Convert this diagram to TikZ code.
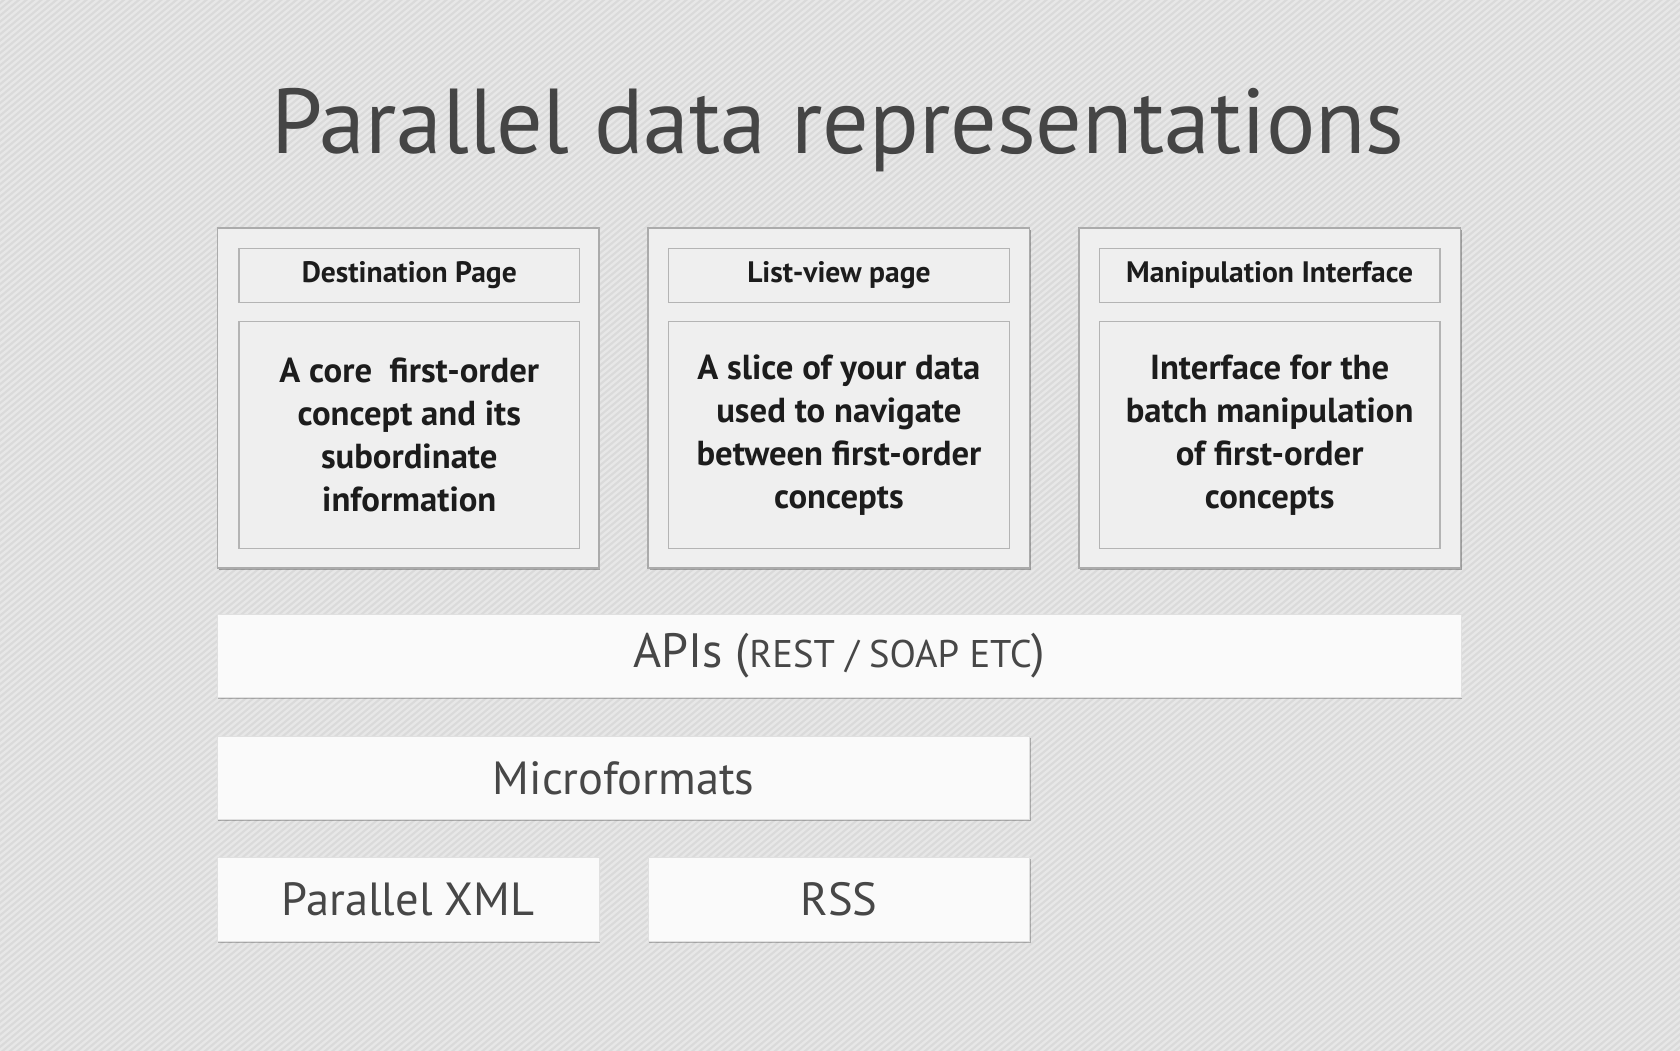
\documentclass[tikz,border=0pt]{standalone}
\usepackage{fontspec}
\setmainfont{PT Sans}
\usetikzlibrary{shadows}
\definecolor{bgcol}{HTML}{DADADA}
\definecolor{stripecol}{HTML}{E7E7E7}
\definecolor{boxline}{HTML}{ABABAB}
\definecolor{innerline}{HTML}{B4B4B4}
\definecolor{boxfill}{HTML}{EFEFEF}
\definecolor{whitefill}{HTML}{FAFAFA}
\definecolor{titlecol}{HTML}{454545}
\definecolor{darktext}{HTML}{1C1C1C}
\definecolor{graytext}{HTML}{474747}
\begin{document}
\begin{tikzpicture}[x=0.5pt,y=-0.5pt,
  outerbox/.style={draw=boxline, fill=boxfill, line width=0.7pt, inner sep=0pt,
    minimum width=178pt, minimum height=158.5pt,
    drop shadow={shadow xshift=0.7pt, shadow yshift=-0.9pt, opacity=0.3, fill=black}},
  headbox/.style={draw=innerline, fill=boxfill, line width=0.6pt, inner sep=0pt,
    minimum width=159pt, minimum height=25pt, text=darktext,
    font=\fontsize{13.8}{15}\selectfont\bfseries},
  bodybox/.style={draw=innerline, fill=boxfill, line width=0.6pt, inner sep=0pt,
    minimum width=159pt, minimum height=106pt, text=darktext, align=center,
    font=\fontsize{16.2}{20}\selectfont\bfseries},
  layerbox/.style={draw=black!12, fill=whitefill, line width=0.4pt, inner sep=0pt,
    minimum height=39pt, text=graytext, font=\fontsize{21.7}{24}\selectfont,
    drop shadow={shadow xshift=0.4pt, shadow yshift=-0.8pt, opacity=0.25, fill=black}},
]
\useasboundingbox (0,0) rectangle (1568,980);
\fill[bgcol] (-2,-2) rectangle (1570,982);
\begin{scope}
  \clip (-2,-2) rectangle (1570,982);
  \foreach \i in {-1300,-1293,...,1580}
    \draw[stripecol, line width=1.1pt] (\i,990) -- ++(1200,-1000);
\end{scope}

\node[anchor=base, text=titlecol, font=\fontsize{43}{50}\selectfont, inner sep=0pt]
  (title) at (782,143) {Parallel data representations};

% top boxes
\node[outerbox] (dest) at (381,371.5) {};
\node[headbox] (desthead) at (382,257) {Destination Page};
\node[bodybox] (destbody) at (382,406) {A core\ \ first-order\\concept and its\\subordinate\\information};

\node[outerbox] (list) at (783,371.5) {};
\node[headbox] (listhead) at (783,257) {List-view page};
\node[bodybox] (listbody) at (783,406) {A slice of your data\\used to navigate\\between first-order\\concepts};

\node[outerbox] (manip) at (1185,371.5) {};
\node[headbox] (maniphead) at (1185,257) {Manipulation Interface};
\node[bodybox] (manipbody) at (1185,406) {Interface for the\\batch manipulation\\of first-order\\concepts};

% layers
\node[layerbox, minimum width=580.5pt, font=\fontsize{22.5}{24}\selectfont] (apis) at (783.5,612)
  {APIs ({\fontsize{18}{20}\selectfont REST / SOAP ETC})};
\node[layerbox, minimum width=379pt] (micro) at (582,726) {Microformats};
\node[layerbox, minimum width=178pt] (xml) at (381,839.5) {Parallel XML};
\node[layerbox, minimum width=178pt] (rss) at (783,839.5) {RSS};
\end{tikzpicture}
\end{document}
